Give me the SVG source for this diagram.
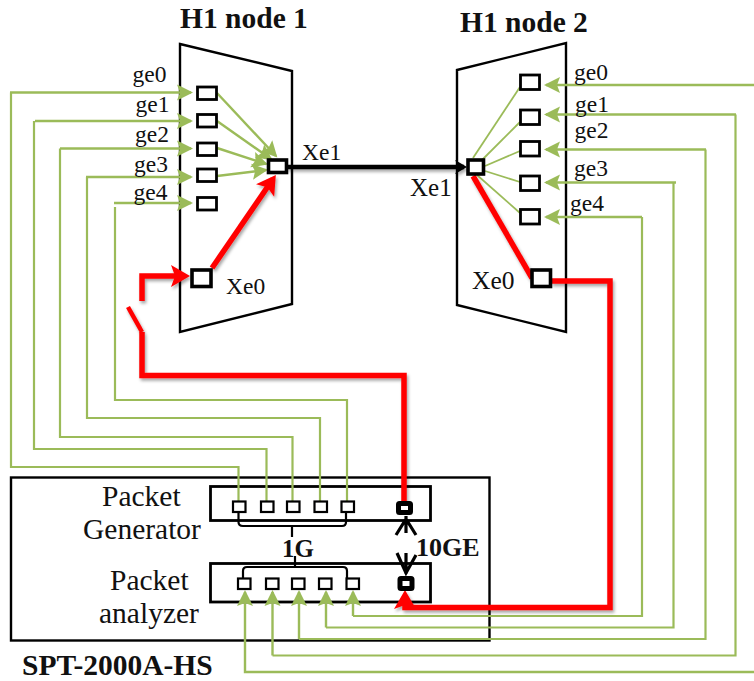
<svg xmlns="http://www.w3.org/2000/svg" width="754" height="681" viewBox="0 0 754 681">
<style>
text{font-family:"Liberation Serif","Times New Roman",serif;fill:#111}
.b{font-weight:bold}
.t{font-size:29.500px}
.g{font-size:23.500px}
.shell{fill:none;stroke:#000;stroke-width:2.4}
.box{fill:#fff;stroke:#000;stroke-width:2.8}
.port{fill:#fff;stroke:#000;stroke-width:2.8}
.sm{stroke-width:2.2}
.xe{fill:#fff;stroke:#000;stroke-width:3.600}
.ten{fill:#fff;stroke:#000;stroke-width:5}
.gl{fill:none;stroke:#9bbb59;stroke-width:2.400;marker-end:url(#ga)}
.gp{fill:none;stroke:#9bbb59;stroke-width:2.200}
.gt{fill:none;stroke:#9bbb59;stroke-width:1.800}
.r{fill:none;stroke:#f00;stroke-width:5.500;filter:url(#sh)}
.k{fill:none;stroke:#000;stroke-width:2.200}
.ka{fill:none;stroke:#000;stroke-width:3.200}
</style>
<defs>
<filter id="sh" x="0" y="0" width="754" height="681" filterUnits="userSpaceOnUse"><feDropShadow dx="1.500" dy="2.500" stdDeviation="1.800" flood-color="#000" flood-opacity="0.35"/></filter>
<marker id="ga" markerUnits="userSpaceOnUse" markerWidth="18" markerHeight="18" refX="14" refY="9" orient="auto" overflow="visible"><path d="M16,9 L0,1 L3,9 L0,17 Z" fill="#9bbb59"/></marker>
<marker id="ra" markerUnits="userSpaceOnUse" markerWidth="22" markerHeight="24" refX="14" refY="12" orient="auto" overflow="visible"><path d="M19,12 L0,1 L4,12 L0,23 Z" fill="#f00"/></marker>
<marker id="ka" markerUnits="userSpaceOnUse" markerWidth="14" markerHeight="18" refX="10" refY="8" orient="auto" overflow="visible"><path d="M13,8 L1,1 L5,8 L1,15 Z" fill="#000"/></marker>
</defs>
<rect width="754" height="681" fill="#fff"/>

<g id="node-h1-1">
<polygon class="shell" points="180,44 292,71 292,304 180,332"/>
<text class="b t" x="180" y="28">H1 node 1</text>
</g>
<g id="node-h1-2">
<polygon class="shell" points="457,70 566,43 566,332 457,305"/>
<text class="b t" x="460" y="32">H1 node 2</text>
</g>
<g id="node-spt">
<rect class="shell" x="11" y="477.500" width="478.500" height="163"/>
<text class="b t" x="22" y="675">SPT-2000A-HS</text>
<text class="t" x="102" y="506">Packet</text>
<text class="t" x="83" y="539">Generator</text>
<text class="t" x="110" y="590">Packet</text>
<text class="t" x="99" y="623">analyzer</text>
</g>
<g id="node-generator"><rect class="box" x="210.500" y="486.500" width="220" height="34"/></g>
<g id="node-analyzer"><rect class="box" x="210.500" y="563.500" width="220" height="38.500"/></g>

<g id="connectors">
<path class="gl" d="M10,92.500H191"/>
<path class="gp" d="M11,92.500V467H238.500V501"/>
<path class="gl" d="M35,121H191"/>
<path class="gp" d="M34,121V449H266.500V501"/>
<path class="gl" d="M60,148.500H191"/>
<path class="gp" d="M60,148.500V437H292.500V501"/>
<path class="gl" d="M86,177H191"/>
<path class="gp" d="M87,177V418H320V501"/>
<path class="gl" d="M114,203H191"/>
<path class="gp" d="M115,207V400H347V501"/>

<path class="gl" d="M217,93L276,156"/>
<path class="gl" d="M217,121L271,159"/>
<path class="gl" d="M217,148L266,164"/>
<path class="gl" d="M217,176L266,170"/>

<path class="gt" d="M473,158L520,87"/>
<path class="gt" d="M480,162L520,122"/>
<path class="gt" d="M485,166L520,151"/>
<path class="gt" d="M485,171L520,182"/>
<path class="gt" d="M477,175L520,213"/>

<path class="gl" d="M754,85H546"/>
<path class="gl" d="M736,114.500H546"/>
<path class="gl" d="M706,149.500H546"/>
<path class="gl" d="M676,182.500H546"/>
<path class="gl" d="M642,217H546"/>
<path class="gp" d="M735.500,114.500V655.500H272.500"/>
<path class="gp" d="M705.500,149.500V639H299"/>
<path class="gp" d="M673.500,182.500V627.500H326"/>
<path class="gp" d="M642,217V616H353"/>
<path class="gl" d="M754,672H245V592"/>
<path class="gl" d="M272.500,655.500V592"/>
<path class="gl" d="M299,639V592"/>
<path class="gl" d="M326,627.500V592"/>
<path class="gl" d="M353,616V592"/>

<path class="ka" d="M396,535L406,519L416,535M406,516V533"/>
<path class="ka" d="M397,553L406,573L416,555M406,553V574"/>
<path class="k" d="M238.500,512V522Q238.500,526 243,526H342Q346,526 346,522V512M292,526V537"/>
<path class="k" d="M243,578V571Q243,567 247,567H343Q347,567 347,571V578M295,556V567"/>

<path d="M287,167H464" fill="none" stroke="#000" stroke-width="4.500" marker-end="url(#ka)" filter="url(#sh)"/>

<path class="r" d="M212,268L273,179" marker-end="url(#ra)"/>
<path class="r" d="M142,301V276H185" marker-end="url(#ra)"/>
<path class="r" style="stroke-width:4.500" d="M128,307L142,332"/>
<path class="r" d="M142,332V375.500H404V502"/>
<path class="r" d="M473,176L532,278"/>
<path class="r" d="M551,281H610V607.500H405V595" marker-end="url(#ra)"/>
</g>

<g id="port-h1-1-ge0"><rect class="port" x="197.500" y="87" width="19" height="12.500"/><text class="g" x="132.500" y="82">ge0</text></g>
<g id="port-h1-1-ge1"><rect class="port" x="197.500" y="114.500" width="19" height="12.500"/><text class="g" x="135.500" y="112">ge1</text></g>
<g id="port-h1-1-ge2"><rect class="port" x="197.500" y="143" width="19" height="12.500"/><text class="g" x="135" y="142">ge2</text></g>
<g id="port-h1-1-ge3"><rect class="port" x="197.500" y="169" width="19" height="12.500"/><text class="g" x="134" y="172">ge3</text></g>
<g id="port-h1-1-ge4"><rect class="port" x="197.500" y="197.500" width="19" height="12.500"/><text class="g" x="133.500" y="200">ge4</text></g>
<g id="port-h1-1-xe1"><rect class="xe" x="268.500" y="160" width="18" height="12.500"/><text class="g" x="302" y="160">Xe1</text></g>
<g id="port-h1-1-xe0"><rect class="xe" x="192" y="270" width="19" height="16.500"/><text class="g" x="226" y="294">Xe0</text></g>

<g id="port-h1-2-ge0"><rect class="port" x="520.500" y="75" width="19" height="14.500"/><text class="g" x="574" y="80">ge0</text></g>
<g id="port-h1-2-ge1"><rect class="port" x="520.500" y="110" width="19" height="14.500"/><text class="g" x="575" y="112">ge1</text></g>
<g id="port-h1-2-ge2"><rect class="port" x="520.500" y="141.500" width="19" height="14.500"/><text class="g" x="574.500" y="138">ge2</text></g>
<g id="port-h1-2-ge3"><rect class="port" x="520.500" y="176" width="19" height="14.500"/><text class="g" x="574" y="176">ge3</text></g>
<g id="port-h1-2-ge4"><rect class="port" x="520.500" y="209.500" width="19" height="14.500"/><text class="g" x="570" y="211">ge4</text></g>
<g id="port-h1-2-xe1"><rect class="xe" x="468" y="160" width="15.500" height="14"/><text class="g" x="410" y="196" style="font-size:25px">Xe1</text></g>
<g id="port-h1-2-xe0"><rect class="xe" x="532" y="270" width="18.500" height="16.500"/><text class="g" x="472" y="289" style="font-size:25.500px">Xe0</text></g>

<g id="gen-ports">
<rect class="port sm" x="233" y="501.500" width="12.500" height="10.500"/>
<rect class="port sm" x="261" y="501.500" width="12.500" height="10.500"/>
<rect class="port sm" x="287" y="501.500" width="12.500" height="10.500"/>
<rect class="port sm" x="314.500" y="501.500" width="12.500" height="10.500"/>
<rect class="port sm" x="341.500" y="501.500" width="12.500" height="10.500"/>
<rect class="ten" x="398.500" y="503.500" width="12" height="9" rx="1"/>
</g>
<g id="ana-ports">
<rect class="port sm" x="238" y="578.500" width="12.500" height="10.500"/>
<rect class="port sm" x="266" y="578.500" width="12.500" height="10.500"/>
<rect class="port sm" x="292" y="578.500" width="12.500" height="10.500"/>
<rect class="port sm" x="319" y="578.500" width="12.500" height="10.500"/>
<rect class="port sm" x="346.500" y="578.500" width="12.500" height="10.500"/>
<rect class="ten" x="400" y="578.500" width="12" height="10" rx="1"/>
</g>
<g id="labels">
<text class="b" x="282" y="557" style="font-size:25px">1G</text>
<text class="b" x="416" y="556" style="font-size:26px">10GE</text>
</g>
</svg>
